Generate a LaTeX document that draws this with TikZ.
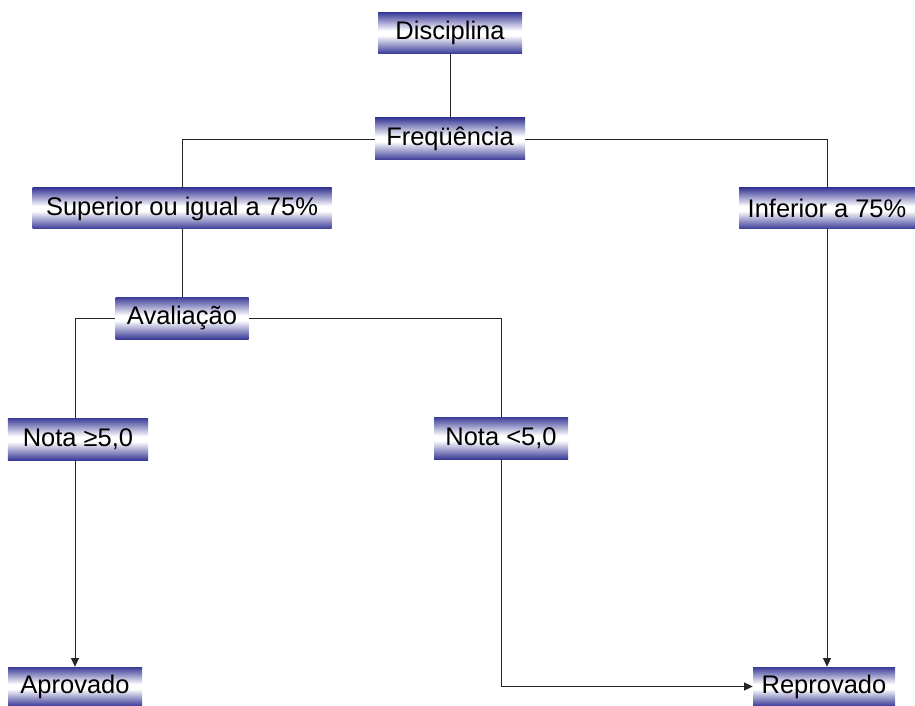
\documentclass[tikz,border=0pt]{standalone}
\usepackage{fontspec}
\setmainfont{Liberation Sans}
\usetikzlibrary{arrows.meta}
\definecolor{barblue}{RGB}{58,58,152}
\pgfdeclareverticalshading{bluebar}{100bp}{color(0bp)=(barblue); color(25bp)=(barblue);
  color(47bp)=(white); color(53bp)=(white); color(75bp)=(barblue); color(100bp)=(barblue)}

\begin{document}
\begin{tikzpicture}[
  stage/.style={shading=bluebar,minimum height=.82cm,inner sep=0pt,
    align=center,font=\fontsize{14.5}{16}\selectfont},
  link/.style={line width=.55pt,draw=black!85},
  verdict/.style={link,-{Triangle[length=1.7mm,width=1.6mm]}}
]
\useasboundingbox (0,0) rectangle (18.3,-14.12);

% Attendance is checked first.
\node[stage,minimum width=2.88cm] (disciplina) at (9.0,-.66) {Disciplina};
\node[stage,minimum width=3cm,minimum height=.84cm] (frequencia) at (9.0,-2.78) {Freqüência};
\node[stage,minimum width=5.98cm] (superior) at (3.64,-4.17) {Superior ou igual a 75\%};
\node[stage,minimum width=3.52cm] (inferior) at (16.54,-4.17) {Inferior a 75\%};

\draw[link] (disciplina) -- (frequencia);
\draw[link] (frequencia.west) -| (superior.north);
\draw[link] (frequencia.east) -| (inferior.north);

% Then the grade decides.
\node[stage,minimum width=2.66cm,minimum height=.84cm] (avaliacao) at (3.64,-6.36) {Avaliação};
\node[stage,minimum width=2.8cm,minimum height=.84cm] (notaalta) at (1.56,-8.78) {Nota ≥5,0};
\node[stage,minimum width=2.68cm,minimum height=.84cm] (notabaixa) at (10.02,-8.76) {Nota <5,0};

\draw[link] (superior) -- (avaliacao);
\draw[link] (avaliacao.west) -| ([xshift=-.06cm]notaalta.north);
\draw[link] (avaliacao.east) -| (notabaixa.north);

% Final results.
\node[stage,minimum width=2.68cm,minimum height=.78cm] (aprovado) at (1.5,-13.73) {Aprovado};
\node[stage,minimum width=2.84cm,minimum height=.78cm] (reprovado) at (16.48,-13.73) {Reprovado};

\draw[verdict] (notaalta.south -| aprovado.north) -- (aprovado.north);
\draw[verdict] (notabaixa.south) |- (reprovado.west);
\draw[verdict] (inferior.south) -- (inferior.south |- reprovado.north);
\end{tikzpicture}
\end{document}
